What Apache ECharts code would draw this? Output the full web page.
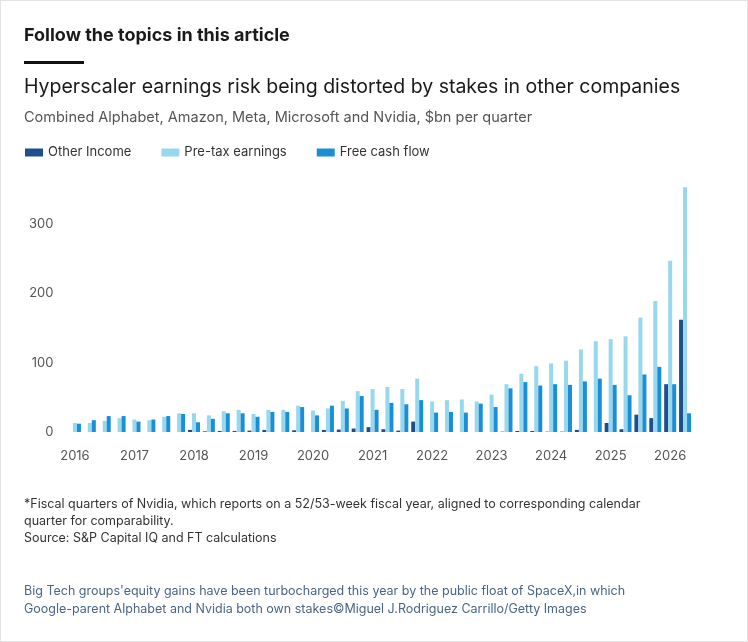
<!DOCTYPE html>
<html><head><meta charset="utf-8">
<script src="https://cdn.jsdelivr.net/npm/echarts@6/dist/echarts.min.js"></script>
<style>
body{margin:0;background:#fff;font-family:Inter,"Noto Sans",sans-serif;}
#wrap{position:absolute;left:0;top:0;width:746px;height:640px;border:1px solid #e3e3e3;}
.h{position:absolute;left:24px;top:24px;font-size:18px;font-weight:700;color:#1a1a1a;}
.rule{position:absolute;left:24px;top:61px;width:60px;height:3px;background:#111;}
.t{position:absolute;left:24px;top:74px;font-size:19.5px;color:#1a1a1a;}
.s{position:absolute;left:24px;top:108px;font-size:14.5px;color:#555;}
.n{position:absolute;left:24px;top:495px;font-size:12.5px;color:#333;line-height:17px;}
.c{position:absolute;left:24px;top:582px;font-size:12.5px;color:#4a6585;line-height:18px;}
#chart{position:absolute;left:0;top:0;width:748px;height:642px;}
</style></head><body>
<div id="wrap"></div>
<div id="chart"></div>
<div class="h">Follow the topics in this article</div>
<div class="rule"></div>
<div class="t">Hyperscaler earnings risk being distorted by stakes in other companies</div>
<div class="s">Combined Alphabet, Amazon, Meta, Microsoft and Nvidia, $bn per quarter</div>
<div class="n">*Fiscal quarters of Nvidia, which reports on a 52/53-week fiscal year, aligned to corresponding calendar<br>quarter for comparability.<br>Source: S&amp;P Capital IQ and FT calculations</div>
<div class="c">Big Tech groups'equity gains have been turbocharged this year by the public float of SpaceX,in which<br>Google-parent Alphabet and Nvidia both own stakes©Miguel J.Rodriguez Carrillo/Getty Images</div>
<script>
const years=[2016,2017,2018,2019,2020,2021,2022,2023,2024,2025,2026];
const categories=[];
years.forEach(y=>{for(let q=1;q<=4;q++){if(y===2026&&q>2)return;categories.push(y+' Q'+q);}});
const otherIncome=[0,0,0,0,-1,0,0,0,3,1,1.5,1.5,2,3,0,2.5,-0.5,3,3.5,5,7,4,2,15,-9,-6,0,-4,0,0.5,1.5,1.5,0.5,0.5,3,0,13,4,25,20,69,162];
const preTax=[13,13,16,20,18,17,22,27,27,24,30,32,26,32,32,38,31,34,45,59,62,65,62,77,44,46,47,44,54,69,84,95,99,103,119,131,134,138,165,189,247,353];
const fcf=[12,17,23,23,15,18,23,26,14,19,27,27,22,29,29,36,24,38,34,52,32,42,40,46,28,29,28,41,36,63,72,67,69,68,73,77,68,53,83,94,69,27];
const yTicks=[0,100,200,300];
const ch=echarts.init(document.getElementById('chart'));
const f='Inter,"Noto Sans",sans-serif';
ch.setOption({
 animation:false,
 textStyle:{fontFamily:f},
 legend:{left:20,top:141,itemWidth:18,itemHeight:8,itemGap:30,icon:'rect',textStyle:{fontSize:13,color:'#333',fontFamily:f},
   data:['Other Income','Pre-tax earnings','Free cash flow']},
 grid:{left:67.5,right:55.5,top:182.5,bottom:210},
 xAxis:{type:'category',data:categories,axisTick:{show:false},axisLine:{show:false},
   axisLabel:{interval:0,margin:18,fontSize:13,color:'#555',formatter:v=>v.endsWith('Q1')?v.slice(0,4):''}},
 yAxis:{type:'value',min:0,max:360,interval:100,splitLine:{show:false},
   axisLabel:{fontSize:13,color:'#555',margin:14,showMaxLabel:false,formatter:v=>yTicks.includes(v)?String(v):''}},
 series:[
  {name:'Other Income',type:'bar',data:otherIncome,barWidth:4,barGap:'0%',itemStyle:{color:'#1d4f8f'}},
  {name:'Pre-tax earnings',type:'bar',data:preTax,barWidth:4,barGap:'0%',itemStyle:{color:'#98d8ee'}},
  {name:'Free cash flow',type:'bar',data:fcf,barWidth:4,barGap:'0%',itemStyle:{color:'#1a8fd5'}}
 ]
});
</script>
</body></html>
